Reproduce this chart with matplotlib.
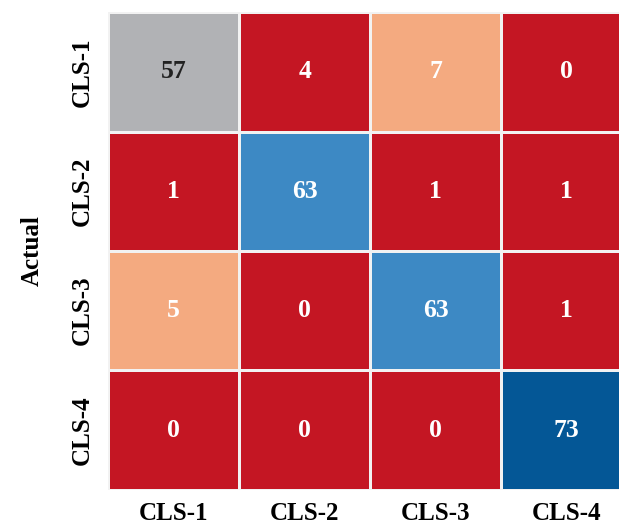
import numpy as np
import matplotlib.pyplot as plt
from matplotlib.colors import ListedColormap, BoundaryNorm

# Confusion matrix counts (rows = actual, cols = predicted)
classes = ["CLS-1", "CLS-2", "CLS-3", "CLS-4"]
cls1_row = [57, 4, 7, 0]
cls2_row = [1, 63, 1, 1]
cls3_row = [5, 0, 63, 1]
cls4_row = [0, 0, 0, 73]

cm = np.array([cls1_row, cls2_row, cls3_row, cls4_row])

plt.rcParams["font.family"] = ["Liberation Serif", "DejaVu Serif"]
plt.rcParams["font.weight"] = "bold"

# Stepped palette for the count ranges
cell_colors = ["#c41623", "#f4aa80", "#b1b2b5", "#3d89c4", "#045796"]
bounds = [0, 5, 20, 60, 70, 80]
cmap = ListedColormap(cell_colors)
norm = BoundaryNorm(bounds, cmap.N)

fig = plt.figure(figsize=(6.19, 5.24), dpi=100)
ax = fig.add_axes([0.1745, 0.065, 0.847, 0.912])

ax.pcolormesh(cm, cmap=cmap, norm=norm, edgecolors="#f2f2f2", linewidth=1.0)
ax.set_xlim(0, 4)
ax.set_ylim(4, 0)

for i in range(cm.shape[0]):
    for j in range(cm.shape[1]):
        val = cm[i, j]
        color = "#222222" if val == 57 else "white"
        ax.text(j + 0.5, i + 0.5, str(val), ha="center", va="center",
                fontsize=18.5, fontweight="bold", color=color)

ax.set_xticks(np.arange(4) + 0.5)
ax.set_xticklabels(classes, fontsize=18, fontweight="bold")
ax.set_yticks(np.arange(4) + 0.5)
ax.set_yticklabels(classes, fontsize=18, fontweight="bold", rotation=90, va="center")
ax.tick_params(axis="x", length=0, pad=9)
ax.tick_params(axis="y", length=0, pad=10)

ax.set_ylabel("Actual", fontsize=18, fontweight="bold", labelpad=20)

for spine in ax.spines.values():
    spine.set_visible(False)

plt.savefig("out.png", dpi=100)
